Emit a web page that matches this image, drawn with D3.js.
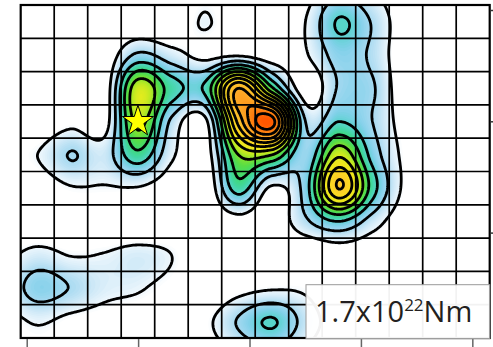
<!DOCTYPE html>
<html>
<head>
<meta charset="utf-8">
<script src="https://cdn.jsdelivr.net/npm/d3@7"></script>
<style>
  html, body { margin: 0; padding: 0; background: #ffffff; }
  svg { display: block; }
</style>
</head>
<body>
<svg id="chart" width="493" height="347"></svg>
<script>
// Slip on the fault grid: 14 subfaults along strike x 10 down dip (rows top to bottom)
const nCols = 14;
const nRows = 10;
const slipRow0 = [0.0, 0.0, 0.0, 0.1, 0.0, 1.1, 0.0, 0.0, 1.0, 3.1, 1.9, 0.3, 0.0, 0.0];
const slipRow1 = [0.0, 0.0, 0.2, 2.2, 1.4, 0.7, 0.85, 0.35, 0.9, 2.4, 1.8, 0.2, 0.0, 0.0];
const slipRow2 = [0.0, 0.0, 0.3, 5.7, 3.5, 3.2, 9.0, 4.2, 0.3, 2.1, 2.1, 0.2, 0.0, 0.0];
const slipRow3 = [0.1, 0.7, 0.5, 5.3, 1.8, 0.7, 8.3, 11.4, 2.0, 3.0, 2.0, 0.5, 0.0, 0.0];
const slipRow4 = [1.0, 2.05, 1.5, 3.7, 1.2, 0.4, 5.0, 5.0, 2.2, 5.8, 2.6, 0.7, 0.0, 0.0];
const slipRow5 = [0.3, 0.92, 0.92, 0.92, 0.3, 0.0, 3.5, 0.8, 2.5, 8.05, 3.5, 0.7, 0.0, 0.0];
const slipRow6 = [0.0, 0.0, 0.0, 0.0, 0.0, 0.0, 0.5, 0.2, 1.8, 3.0, 1.5, 0.3, 0.0, 0.0];
const slipRow7 = [1.35, 0.95, 1.05, 1.35, 1.0, 0.0, 0.0, 0.0, 0.0, 0.3, 0.2, 0.0, 0.0, 0.0];
const slipRow8 = [2.4, 1.95, 1.3, 1.1, 0.6, 0.0, 0.6, 0.9, 0.8, 0.0, 0.0, 0.0, 0.0, 0.0];
const slipRow9 = [1.1, 0.7, 0.5, 0.3, 0.0, 0.7, 2.1, 3.1, 1.6, 0.4, 0.0, 0.0, 0.0, 0.0];
const slip = [slipRow0, slipRow1, slipRow2, slipRow3, slipRow4,
              slipRow5, slipRow6, slipRow7, slipRow8, slipRow9];

// Contour levels drawn as black lines
const contourLevels = [1, 2, 3, 4, 5, 6, 7, 8, 9, 10, 11];

// Colour ramp for slip
const colorStops = [0, 0.8, 1.0, 1.5, 2.0, 2.5, 3.0, 3.5, 4.0, 4.5, 5.0, 5.5, 6.0, 7.0, 8.0, 9.0, 10.0, 11.0, 11.6];
const colorRamp  = ["#ffffff", "#ffffff", "#f0f8fd", "#cde8f7", "#a8daf1", "#84d1ea", "#5cd3d0",
                    "#44d6a6", "#3fd978", "#55dd48", "#88e32e", "#bde923", "#e3ec1e", "#f9e01e",
                    "#fdcc2a", "#fdb22c", "#fd961c", "#fe6c08", "#ff5600"];

// Epicentre (subfault column, row; centre of cell)
const epicenter = [3.5, 3.5];

// Geographic tick positions on the map frame
const lonTicks = [141, 142, 143, 144, 145];
const latTicks = [40, 39, 38];

// Seismic moment annotation
const momentMantissa = "1.7x10";
const momentExponent = "22";
const momentUnit = "Nm";

const plot = { left: 20.7, right: 489.7, top: 5, bottom: 338 };
const svg = d3.select("#chart");

const x = d3.scaleLinear().domain([0, nCols]).range([plot.left, plot.right]);
const y = d3.scaleLinear().domain([0, nRows]).range([plot.top, plot.bottom]);
const lon = d3.scaleLinear().domain([140.946, 145.156]).range([plot.left, plot.right]);
const lat = d3.scaleLinear().domain([40.045, 37.053]).range([plot.top, plot.bottom]);
const color = d3.scaleLinear().domain(colorStops).range(colorRamp).clamp(true);

// Bicubic (Catmull-Rom) interpolation of the cell-centred slip grid;
// beyond the fault edge the slip tapers by half per cell
function cr(p0, p1, p2, p3, t) {
  return 0.5 * (2 * p1 + (-p0 + p2) * t + (2 * p0 - 5 * p1 + 4 * p2 - p3) * t * t
    + (-p0 + 3 * p1 - 3 * p2 + p3) * t * t * t);
}
function cellValue(c, r) {
  const cc = Math.max(0, Math.min(nCols - 1, c));
  const rr = Math.max(0, Math.min(nRows - 1, r));
  const out = Math.abs(c - cc) + Math.abs(r - rr);
  return slip[rr][cc] * Math.pow(0.5, out);
}
function slipAt(u, v) {
  const c = Math.floor(u), r = Math.floor(v), tx = u - c, ty = v - r;
  const col = [];
  for (let j = -1; j <= 2; j++) {
    col.push(cr(cellValue(c - 1, r + j), cellValue(c, r + j),
                cellValue(c + 1, r + j), cellValue(c + 2, r + j), tx));
  }
  return cr(col[0], col[1], col[2], col[3], ty);
}

// Sample the smooth field on a fine pixel lattice
const step = 1.5;
const nx = Math.ceil((plot.right - plot.left) / step) + 2;
const ny = Math.ceil((plot.bottom - plot.top) / step) + 2;
const field = new Float64Array(nx * ny);
for (let j = 0; j < ny; j++) {
  const v = y.invert(plot.top + j * step) - 0.5;
  for (let i = 0; i < nx; i++) {
    const u = x.invert(plot.left + i * step) - 0.5;
    field[j * nx + i] = slipAt(u, v);
  }
}

const toPixels = d3.geoTransform({
  point(px, py) {
    this.stream.point(plot.left + (px - 0.5) * step, plot.top + (py - 0.5) * step);
  }
});
const path = d3.geoPath(toPixels);

svg.append("defs").append("clipPath").attr("id", "plot-clip")
  .append("rect")
  .attr("x", plot.left).attr("y", plot.top)
  .attr("width", plot.right - plot.left).attr("height", plot.bottom - plot.top);

const body = svg.append("g").attr("clip-path", "url(#plot-clip)");

// Continuous colour fill built from fine contour bands
const bandStep = 0.08;
const bandThresholds = d3.range(0.5, 11.6, bandStep);
const bands = d3.contours().size([nx, ny]).thresholds(bandThresholds)(Array.from(field));
body.append("g")
  .selectAll("path")
  .data(bands)
  .join("path")
  .attr("d", path)
  .attr("fill", d => color(d.value + bandStep / 2))
  .attr("stroke", "none");

// Subfault grid
const grid = body.append("g").attr("stroke", "#000").attr("stroke-width", 1.7);
grid.selectAll("line.v").data(d3.range(1, nCols)).join("line")
  .attr("class", "v")
  .attr("x1", d => x(d)).attr("x2", d => x(d))
  .attr("y1", plot.top).attr("y2", plot.bottom);
grid.selectAll("line.h").data(d3.range(1, nRows)).join("line")
  .attr("class", "h")
  .attr("x1", plot.left).attr("x2", plot.right)
  .attr("y1", d => y(d)).attr("y2", d => y(d));

// Slip contour lines
const lines = d3.contours().size([nx, ny]).thresholds(contourLevels)(Array.from(field));
body.append("g")
  .selectAll("path")
  .data(lines)
  .join("path")
  .attr("d", path)
  .attr("fill", "none")
  .attr("stroke", "#000")
  .attr("stroke-width", 2.8)
  .attr("stroke-linejoin", "round");

// Frame
svg.append("rect")
  .attr("x", plot.left).attr("y", plot.top)
  .attr("width", plot.right - plot.left).attr("height", plot.bottom - plot.top)
  .attr("fill", "none").attr("stroke", "#000").attr("stroke-width", 2.2);

// Map ticks (labels fall outside the frame)
const bottomAxis = svg.append("g")
  .attr("transform", `translate(0,${plot.bottom + 1})`)
  .call(d3.axisBottom(lon).tickValues(lonTicks).tickSize(9).tickFormat(""));
bottomAxis.select(".domain").remove();
bottomAxis.selectAll("line").attr("stroke", "#666").attr("stroke-width", 1.5);

const rightAxis = svg.append("g")
  .attr("transform", `translate(${plot.right + 1},0)`)
  .call(d3.axisRight(lat).tickValues(latTicks).tickSize(4).tickFormat(""));
rightAxis.select(".domain").remove();
rightAxis.selectAll("line").attr("stroke", "#333").attr("stroke-width", 1.5);

// Epicentre star
svg.append("path")
  .attr("d", d3.symbol().type(d3.symbolStar).size(300)())
  .attr("transform", `translate(${x(epicenter[0])},${y(epicenter[1])})`)
  .attr("fill", "#ffff00")
  .attr("stroke", "#000")
  .attr("stroke-width", 1);

// Moment label
const box = { x: 306, y: 284.7 };
svg.append("rect")
  .attr("x", box.x).attr("y", box.y)
  .attr("width", plot.right - box.x).attr("height", plot.bottom - box.y + 0.7)
  .attr("fill", "#ffffff").attr("fill-opacity", 0.95)
  .attr("stroke", "#9a9a9a").attr("stroke-width", 1);

const label = svg.append("text")
  .attr("x", 315).attr("y", 322)
  .attr("font-family", "'Open Sans', Lato, sans-serif")
  .attr("font-size", 29)
  .attr("fill", "#231f20");
label.append("tspan").text(momentMantissa);
label.append("tspan").attr("dy", -11).attr("font-size", 17).text(momentExponent);
label.append("tspan").attr("dy", 11).text(momentUnit);
</script>
</body>
</html>
